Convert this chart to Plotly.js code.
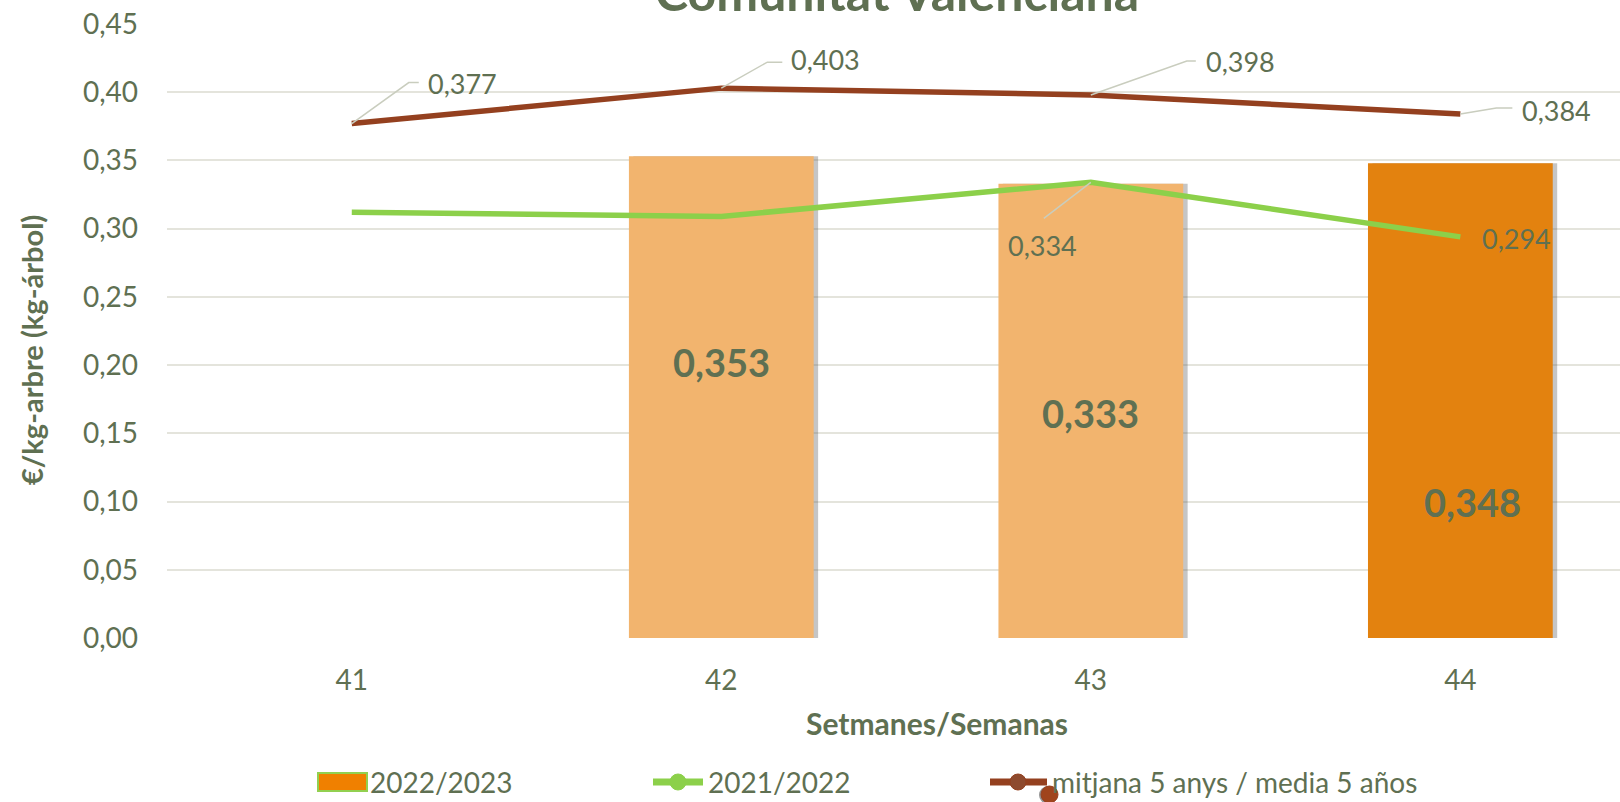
<!DOCTYPE html>
<html>
<head>
<meta charset="utf-8">
<script src="https://cdn.plot.ly/plotly-3.0.1.min.js"></script>
<style>
html,body{margin:0;padding:0;background:#fff;}
#chart{width:1620px;height:802px;}
</style>
</head>
<body>
<div id="chart"></div>
<script>
// ---- data ----
var weeks = ['41', '42', '43', '44'];
var season2223 = [null, 0.353, 0.333, 0.348];
var season2122 = [0.312, 0.309, 0.334, 0.294];
var mean5 = [0.377, 0.403, 0.398, 0.384];
var yTicks = [0, 0.05, 0.10, 0.15, 0.20, 0.25, 0.30, 0.35, 0.40, 0.45];
var titleText = 'Comunitat Valenciana';
var xTitleText = 'Setmanes/Semanas';
var yTitleText = '€/kg-arbre (kg-árbol)';
var legendNames = ['2022/2023', '2021/2022', 'mitjana 5 anys / media 5 años'];

// ---- style ----
var TXT = '#5F7052';
var FONT = 'Lato, "Open Sans", sans-serif';
var barColors = ['#F08000', '#F2B46E', '#F2B46E', '#E3820F'];
var GREEN = '#8CD04A';
var BROWN = '#94401F';
var LEADER = '#C9CDBE';

var M = {l: 167, r: 0, t: 24, b: 164};
var W = 1620, H = 802;
var PW = W - M.l - M.r, PH = H - M.t - M.b;
function px(x) { return (x - M.l) / PW; }
function py(y) { return (H - M.b - y) / PH; }
function fmt(v) { return v.toFixed(3).replace('.', ','); }

var traces = [
  // soft shadow of the bars (same values, nudged right)
  {type: 'bar', x: weeks, y: season2223, width: 0.5, offset: -0.25 + 0.012,
   marker: {color: 'rgba(90,90,90,0.35)', line: {width: 0}}, showlegend: false, hoverinfo: 'skip'},
  {type: 'bar', x: weeks, y: season2223, width: 0.5, offset: -0.25, name: legendNames[0],
   marker: {color: barColors, line: {width: 0}}, showlegend: false, hoverinfo: 'skip'},
  {type: 'scatter', mode: 'lines', x: weeks, y: season2122, name: legendNames[1],
   line: {color: GREEN, width: 5.5}, showlegend: false, hoverinfo: 'skip'},
  {type: 'scatter', mode: 'lines', x: weeks, y: mean5, name: legendNames[2],
   line: {color: BROWN, width: 5.5}, showlegend: false, hoverinfo: 'skip'}
];

// label placement (pixel offsets from the data point)
var barLabelPos = [null, {y: 0.2025, dx: 0}, {y: 0.165, dx: 0}, {y: 0.100, dx: 12}];
var meanLabelPos = [
  {dx: 111, dy: 40, path: 'M0,0 L57,41 L67,41'},
  {dx: 104, dy: 29, path: 'M0,0 L46,26 L61,26'},
  {dx: 150, dy: 33, path: 'M0,0 L96,34 L105,34'},
  {dx: 96, dy: 4, path: 'M0,0 L36,6 L52,6'}
];
var greenLabelPos = [null, null, {dx: -48, dy: -63, path: 'M0,0 L-47,-36'}, {dx: 56, dy: -2, path: null}];

var annotations = [];
var shapes = [];

// bar labels
season2223.forEach(function (v, i) {
  if (v === null || !barLabelPos[i]) return;
  annotations.push({x: i, y: barLabelPos[i].y, xref: 'x', yref: 'y', text: fmt(v),
    showarrow: false, xshift: barLabelPos[i].dx, font: {family: FONT, size: 38, color: TXT, weight: 'bold'}});
});

function lineLabels(vals, pos) {
  vals.forEach(function (v, i) {
    var p = pos[i];
    if (!p) return;
    annotations.push({x: i, y: v, xref: 'x', yref: 'y', text: fmt(v), showarrow: false,
      xshift: p.dx, yshift: p.dy, font: {family: FONT, size: 27, color: TXT}});
    if (p.path) {
      shapes.push({type: 'path', xref: 'x', yref: 'y', xsizemode: 'pixel', ysizemode: 'pixel',
        xanchor: i, yanchor: v, path: p.path, line: {color: LEADER, width: 1.5}, layer: 'above'});
    }
  });
}
lineLabels(mean5, meanLabelPos);
lineLabels(season2122, greenLabelPos);

// title (cut off at top as in the original)
annotations.push({xref: 'paper', yref: 'paper', x: px(897), y: py(-8), text: titleText, showarrow: false,
  xanchor: 'center', yanchor: 'middle', font: {family: FONT, size: 50, color: TXT, weight: 'bold'}});
// axis titles
annotations.push({xref: 'paper', yref: 'paper', x: px(937), y: py(723), text: xTitleText, showarrow: false,
  xanchor: 'center', yanchor: 'middle', font: {family: FONT, size: 30, color: TXT, weight: 'bold'}});
annotations.push({xref: 'paper', yref: 'paper', x: px(31), y: py(350), text: yTitleText, showarrow: false,
  textangle: -90, xanchor: 'center', yanchor: 'middle', font: {family: FONT, size: 29, color: TXT, weight: 'bold'}});

// legend (drawn by hand to match the original's symbols)
var LY = 782;
shapes.push({type: 'rect', xref: 'paper', yref: 'paper', x0: px(318), x1: px(367), y0: py(773), y1: py(791),
  fillcolor: '#F08000', line: {color: '#92D050', width: 2}});
annotations.push({xref: 'paper', yref: 'paper', x: px(368), y: py(LY), text: legendNames[0], showarrow: false,
  xanchor: 'left', yanchor: 'middle', font: {family: FONT, size: 28, color: TXT}});
shapes.push({type: 'line', xref: 'paper', yref: 'paper', x0: px(653), x1: px(703), y0: py(LY), y1: py(LY),
  line: {color: GREEN, width: 7}});
shapes.push({type: 'circle', xref: 'paper', yref: 'paper', x0: px(670), x1: px(686), y0: py(LY - 8), y1: py(LY + 8),
  fillcolor: GREEN, line: {color: GREEN, width: 1}});
annotations.push({xref: 'paper', yref: 'paper', x: px(706), y: py(LY), text: legendNames[1], showarrow: false,
  xanchor: 'left', yanchor: 'middle', font: {family: FONT, size: 28, color: TXT}});
shapes.push({type: 'line', xref: 'paper', yref: 'paper', x0: px(990), x1: px(1047), y0: py(LY), y1: py(LY),
  line: {color: BROWN, width: 7}});
shapes.push({type: 'circle', xref: 'paper', yref: 'paper', x0: px(1010), x1: px(1026), y0: py(LY - 8), y1: py(LY + 8),
  fillcolor: '#8E4A2E', line: {color: BROWN, width: 1}});
shapes.push({type: 'circle', xref: 'paper', yref: 'paper', x0: px(1039), x1: px(1057), y0: py(786), y1: py(804),
  fillcolor: 'rgba(60,60,60,0.55)', line: {width: 0}});
shapes.push({type: 'circle', xref: 'paper', yref: 'paper', x0: px(1041), x1: px(1058), y0: py(786), y1: py(803),
  fillcolor: '#A0441C', line: {color: BROWN, width: 1}});
annotations.push({xref: 'paper', yref: 'paper', x: px(1050), y: py(LY), text: legendNames[2], showarrow: false,
  xanchor: 'left', yanchor: 'middle', font: {family: FONT, size: 28, color: TXT}});

var layout = {
  width: W, height: H,
  margin: M,
  paper_bgcolor: '#ffffff', plot_bgcolor: '#ffffff',
  separators: ',.',
  showlegend: false,
  barmode: 'overlay',
  font: {family: FONT, color: TXT},
  xaxis: {type: 'category', categoryorder: 'array', categoryarray: weeks, range: [-0.5, 3.432],
    showgrid: false, zeroline: false, showline: false, ticks: '', ticklabelstandoff: 23,
    tickfont: {family: FONT, size: 28, color: TXT}, fixedrange: true},
  yaxis: {range: [0, 0.45], tickvals: yTicks, tickformat: '.2f', showgrid: true, gridcolor: '#E4E4DC', gridwidth: 2,
    zeroline: false, showline: false, ticks: '', ticklabelstandoff: 28,
    tickfont: {family: FONT, size: 28, color: TXT}, fixedrange: true},
  annotations: annotations,
  shapes: shapes
};

Plotly.newPlot('chart', traces, layout, {displayModeBar: false, staticPlot: true});
</script>
</body>
</html>
